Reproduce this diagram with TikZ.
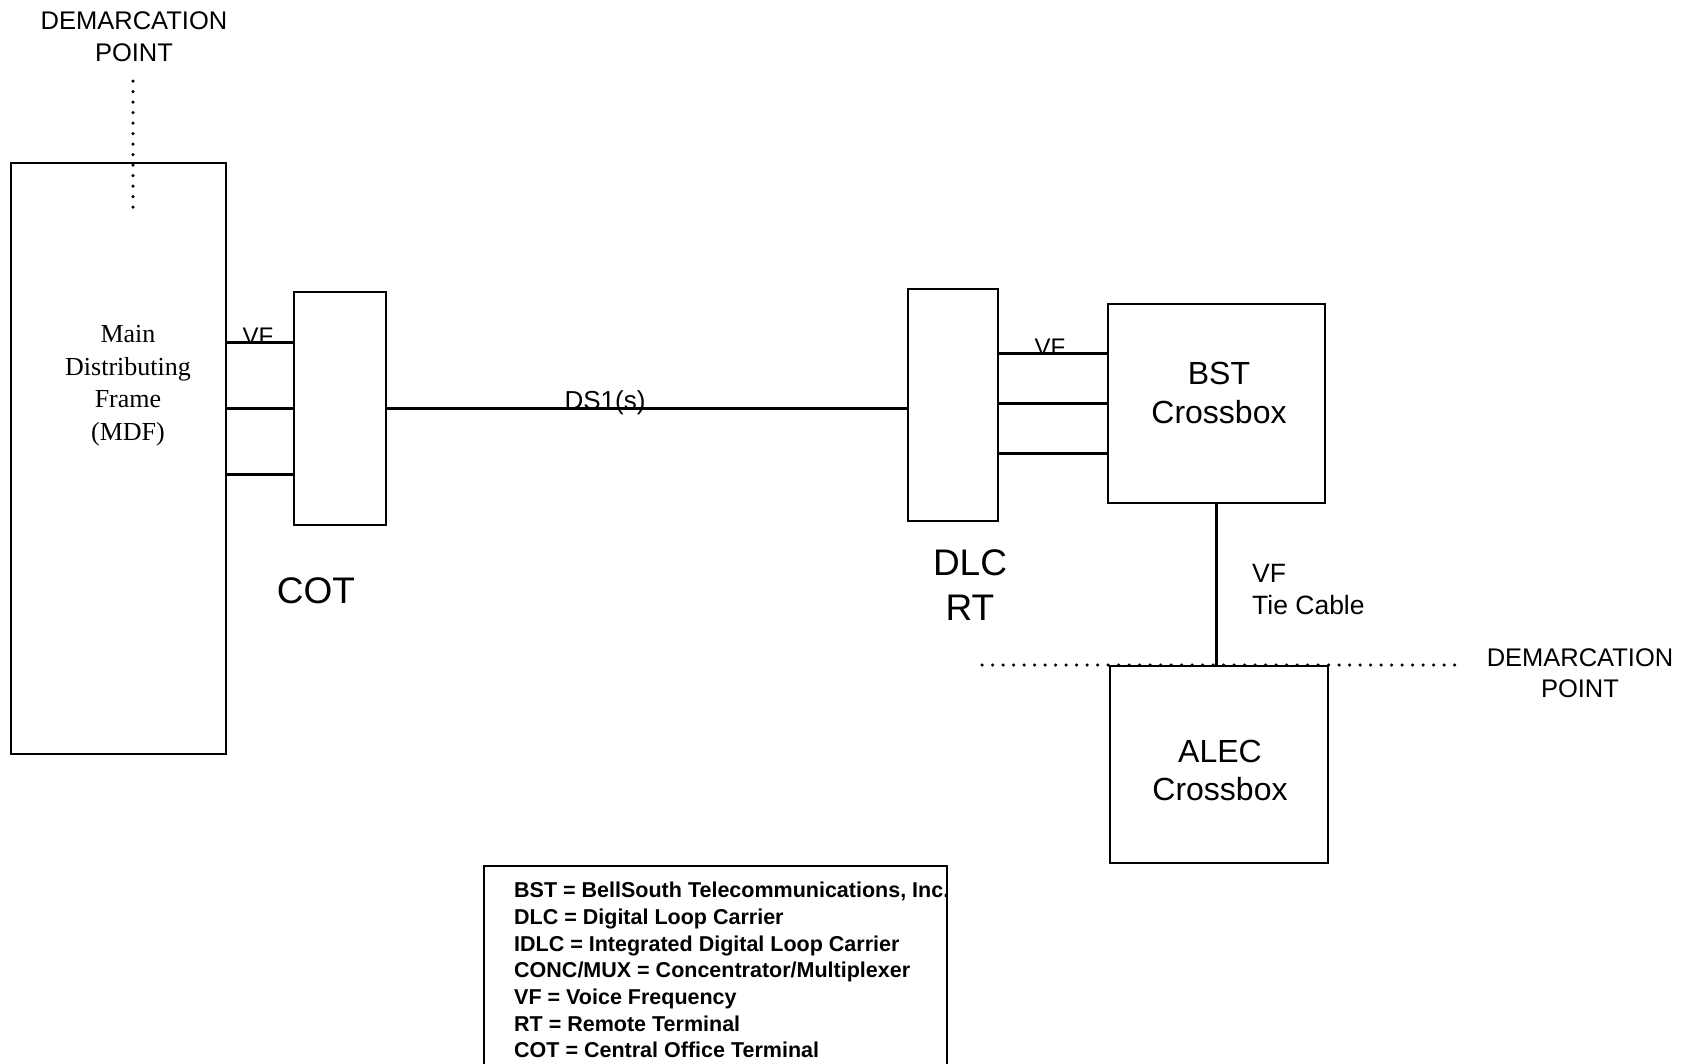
\documentclass[tikz,border=0pt]{standalone}
\usepackage{fontspec}
\setmainfont{Liberation Sans}
\newfontfamily\mdffont{Liberation Serif}

\begin{document}
\begin{tikzpicture}[x=1pt,y=-1pt,
    box/.style={draw, line width=2.5pt, inner sep=0pt},
    wire/.style={line width=2.5pt},
    dotline/.style={line width=3.5pt, line cap=round, dash pattern=on 0pt off 10.5pt},
    lbl/.style={inner sep=0pt, align=center}]
    \useasboundingbox (0,0) rectangle (1697,1063);
    % Caixes principals
    \node[box, minimum width=215pt, minimum height=591pt] (mdf) at (118.5,458.5) {};
    \node[box, minimum width=92pt, minimum height=233pt] (cot) at (340,408.5) {};
    \node[box, minimum width=90pt, minimum height=232pt] (dlc) at (953,405) {};
    \node[box, minimum width=217pt, minimum height=199pt] (bst) at (1216.5,403.5) {};
    \node[box, minimum width=218pt, minimum height=197pt] (alec) at (1219,764.5) {};
    % Textos de les caixes
    \node[lbl, font=\mdffont\fontsize{26}{32.5}\selectfont] (mdftext) at (128,385.5)
        {Main\\Distributing\\Frame\\(MDF)};
    \node[lbl, font=\fontsize{32}{39}\selectfont] (bsttext) at (1219,392.5) {BST\\Crossbox};
    \node[lbl, font=\fontsize{32}{38}\selectfont] (alectext) at (1220,770) {ALEC\\Crossbox};
    \node[lbl, font=\fontsize{37}{44}\selectfont] (cotlbl) at (316,591) {COT};
    \node[lbl, font=\fontsize{37}{45}\selectfont] (dlclbl) at (970,585.5) {DLC\\RT};
    % Línies VF entre MDF i COT
    \foreach \dy [count=\i] in {66,0,-66} {
        \path ([yshift=\dy pt]cot.west) coordinate (cotin\i);
        \draw[wire] (cotin\i -| mdf.east) -- (cotin\i);
    }
    \node[lbl, anchor=base, font=\fontsize{24}{29}\selectfont] (vfleft) at (258,344) {VF};
    % DS1 cap a la terminal remota
    \draw[wire] (cot.east) -- (cot.east -| dlc.west);
    \node[lbl, anchor=base, font=\fontsize{26}{31}\selectfont] (ds1) at (605,409) {DS1(s)};
    % Línies VF entre RT i BST
    \foreach \dy [count=\i] in {50,0,-50} {
        \path ([yshift=\dy pt]bst.west) coordinate (bstin\i);
        \draw[wire] (bstin\i -| dlc.east) -- (bstin\i);
    }
    \node[lbl, anchor=base, font=\fontsize{24}{29}\selectfont] (vfright) at (1050,355) {VF};
    % Cable de connexió
    \draw[wire] (bst.south) -- (bst.south |- alec.north);
    \node[lbl, anchor=west, align=left, font=\fontsize{26.5}{32}\selectfont] (tielbl) at (1252,590)
        {VF\\Tie Cable};
    % Punts de demarcació
    \node[lbl, font=\fontsize{25.5}{32}\selectfont] (dmtop) at (134,37) {DEMARCATION\\POINT};
    \coordinate (dmtopA) at (133,81);
    \coordinate (dmtopB) at (133,211);
    \draw[dotline] (dmtopA) -- (dmtopB);
    \node[lbl, font=\fontsize{25.5}{31}\selectfont] (dmright) at (1580,673.5) {DEMARCATION\\POINT};
    \coordinate (dmL) at (982,665);
    \coordinate (dmR) at (1463,665);
    \draw[dotline] (dmL) -- (dmR);
    % Llegenda
    \draw[line width=2.5pt] (484,1070) |- (947,866) -- (947,1070);
    \node[lbl, anchor=north west, align=left, font=\bfseries\fontsize{21.5}{26.7}\selectfont] (legend) at (514,882)
        {BST = BellSouth Telecommunications, Inc.\\
         DLC = Digital Loop Carrier\\
         IDLC = Integrated Digital Loop Carrier\\
         CONC/MUX = Concentrator/Multiplexer\\
         VF = Voice Frequency\\
         RT = Remote Terminal\\
         COT = Central Office Terminal};
\end{tikzpicture}
\end{document}
